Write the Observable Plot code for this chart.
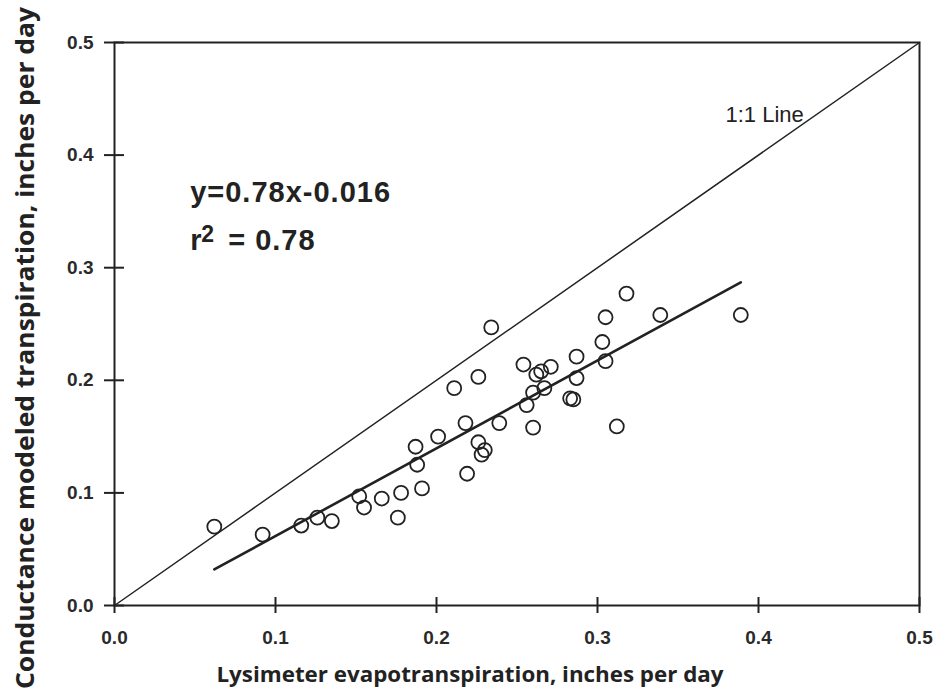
<!DOCTYPE html>
<html><head><meta charset="utf-8">
<script src="https://cdn.jsdelivr.net/npm/d3@7"></script>
<script src="https://cdn.jsdelivr.net/npm/@observablehq/plot@0.6"></script>
<style>
body{margin:0;background:#fff}
#chart svg{display:block}
</style>
</head><body><div id="chart"></div>
<script>
const lysimeterET = [0.062,0.092,0.116,0.126,0.135,0.152,0.155,0.166,0.176,0.178,0.191,0.187,0.188,0.201,0.211,0.218,0.219,0.226,0.226,0.228,0.230,0.234,0.239,0.254,0.256,0.260,0.260,0.262,0.265,0.267,0.271,0.283,0.285,0.287,0.287,0.303,0.305,0.305,0.312,0.318,0.339,0.389];
const modeledT    = [0.070,0.063,0.071,0.078,0.075,0.097,0.087,0.095,0.078,0.100,0.104,0.141,0.125,0.150,0.193,0.162,0.117,0.203,0.145,0.134,0.138,0.247,0.162,0.214,0.178,0.189,0.158,0.205,0.208,0.193,0.212,0.184,0.183,0.221,0.202,0.234,0.256,0.217,0.159,0.277,0.258,0.258];
// Regression line endpoints (y=0.78x-0.016)
const fitX = [0.062, 0.389];
const fitY = [0.032, 0.287];
// 1:1 line
const oneToOneX = [0, 0.5];
const oneToOneY = [0, 0.5];
const tickValues = [0, 0.1, 0.2, 0.3, 0.4, 0.5];
const xTitle = "Lysimeter evapotranspiration, inches per day";
const yTitle = "Conductance modeled transpiration, inches per day";
const equationText = "y=0.78x-0.016";
const rText = "r";
const rSup = "2";
const rValue = "= 0.78";
const lineLabel = "1:1 Line";
const eqPos = {x: 0.047, y: 0.358};
const rPos = {x: 0.047, y: 0.316};
const lineLabelPos = {x: 0.3795, y: 0.4295};

const pts = lysimeterET.map((x, i) => ({x, y: modeledT[i]}));
const fit = fitX.map((x, i) => ({x, y: fitY[i]}));
const diag = oneToOneX.map((x, i) => ({x, y: oneToOneY[i]}));
const fmt = d3.format(".1f");
const ink = "#222";
const arial = "'Liberation Sans', Arial, sans-serif";
const titleFont = "'Open Sans', 'Noto Sans', sans-serif";

const chart = Plot.plot({
  width: 938, height: 694,
  marginLeft: 114, marginRight: 19, marginTop: 42, marginBottom: 89,
  style: {background: "#fff", color: ink, fontFamily: arial},
  x: {domain: [0, 0.5]},
  y: {domain: [0, 0.5]},
  marks: [
    Plot.line(diag, {x: "x", y: "y", stroke: ink, strokeWidth: 1.5}),
    Plot.line(fit, {x: "x", y: "y", stroke: ink, strokeWidth: 2.6}),
    Plot.dot(pts, {x: "x", y: "y", r: 7, stroke: ink, strokeWidth: 1.8, fill: "none"}),
    Plot.frame({stroke: ink, strokeWidth: 2}),
    Plot.ruleX(tickValues, {x: d => d, y1: 0, y2: 0, insetTop: -8, insetBottom: -8, stroke: ink, strokeWidth: 2}),
    Plot.ruleY(tickValues, {y: d => d, x1: 0, x2: 0, insetLeft: -10, insetRight: -10, stroke: ink, strokeWidth: 2}),
    Plot.axisX({ticks: tickValues, tickFormat: fmt, tickSize: 0, tickPadding: 25, label: null,
      fontSize: 19, fontWeight: "bold", fill: "#2a2a2a"}),
    Plot.axisY({ticks: tickValues, tickFormat: fmt, tickSize: 0, tickPadding: 21, label: null,
      fontSize: 19, fontWeight: "bold", fill: "#2a2a2a"}),
    Plot.text([equationText], {x: eqPos.x, y: eqPos.y, text: d => d, textAnchor: "start", lineAnchor: "bottom",
      fontSize: 29, fontWeight: "bold", fontFamily: arial, fill: ink}),
    Plot.text([rText], {x: rPos.x, y: rPos.y, text: d => d, textAnchor: "start", lineAnchor: "bottom",
      fontSize: 29, fontWeight: "bold", fontFamily: arial, fill: ink}),
    Plot.text([rSup], {x: rPos.x, y: rPos.y, text: d => d, textAnchor: "start", lineAnchor: "bottom", dx: 11, dy: -8,
      fontSize: 23, fontWeight: "bold", fontFamily: arial, fill: ink}),
    Plot.text([rValue], {x: rPos.x, y: rPos.y, text: d => d, textAnchor: "start", lineAnchor: "bottom", dx: 38,
      fontSize: 29, fontWeight: "bold", fontFamily: arial, fill: ink}),
    Plot.text([lineLabel], {x: lineLabelPos.x, y: lineLabelPos.y, text: d => d, textAnchor: "start", lineAnchor: "bottom",
      fontSize: 22, fontFamily: arial, fill: ink}),
    Plot.text([xTitle], {frameAnchor: "bottom", text: d => d, textAnchor: "middle", dx: -47, dy: 76, lineAnchor: "bottom",
      fontSize: 22, fontWeight: "bold", fontFamily: titleFont, fill: ink}),
    Plot.text([yTitle], {frameAnchor: "left", text: d => d, textAnchor: "middle", rotate: -90, dx: -81, dy: 24, lineAnchor: "bottom",
      fontSize: 25, fontWeight: "bold", fontFamily: titleFont, fill: ink})
  ]
});
const svg = d3.select(chart);
svg.selectAll("text").filter(function() { return this.textContent === equationText; })
  .attr("letter-spacing", "1px");
svg.selectAll("text").filter(function() { return this.textContent === rValue; })
  .attr("letter-spacing", "1px");
svg.selectAll("text").filter(function() { return this.textContent === yTitle; })
  .attr("textLength", 682).attr("lengthAdjust", "spacingAndGlyphs");
svg.selectAll("text").filter(function() { return this.textContent === xTitle; })
  .attr("textLength", 507).attr("lengthAdjust", "spacingAndGlyphs");
document.getElementById("chart").append(chart);
</script>
</body></html>
